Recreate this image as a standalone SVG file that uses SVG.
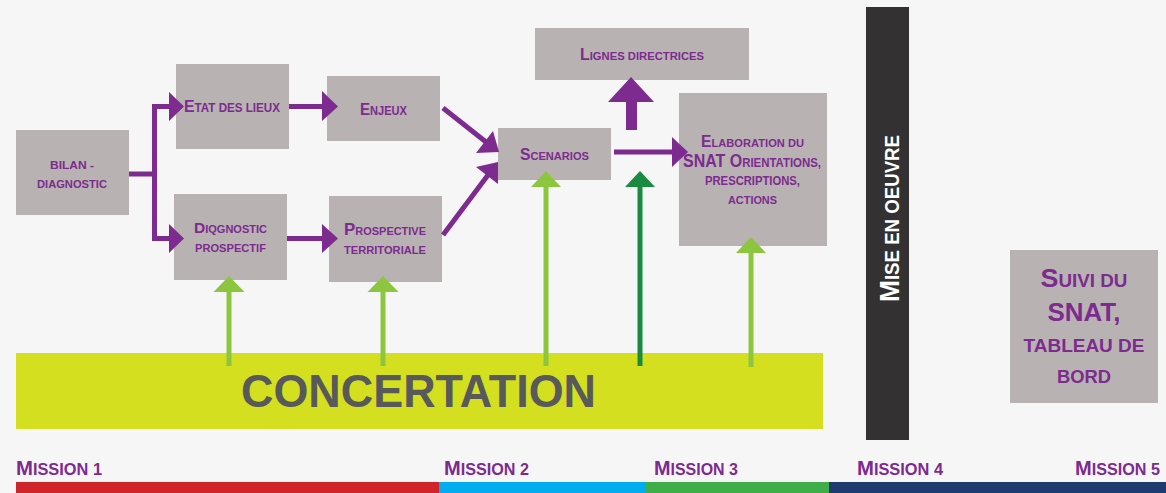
<svg xmlns="http://www.w3.org/2000/svg" width="1166" height="493" viewBox="0 0 1166 493">
<style>
.box{fill:#b8b2b2}
.t{font-family:"Liberation Sans",Arial,sans-serif;font-weight:bold;fill:#7d2b8f}
.pl{stroke:#7d2b8f;stroke-width:5;fill:none}
.ph{fill:#7d2b8f}
.lg{stroke:#8cc63f;stroke-width:5;fill:none}
.lgh{fill:#8cc63f}
.dg{stroke:#1a8a3e;stroke-width:5;fill:none}
.dgh{fill:#1a8a3e}
</style>
<rect width="1166" height="493" fill="#f6f6f6"/>

<g id="concertation">
<rect x="16" y="353" width="807" height="76" fill="#d4df20"/>
<text x="241" y="407" font-family="Liberation Sans,Arial,sans-serif" font-weight="bold" font-size="46" fill="#58595b" textLength="355" lengthAdjust="spacingAndGlyphs">CONCERTATION</text>
</g>

<g id="bilan">
<rect class="box" x="16" y="130" width="113" height="85"/>
<text class="t" x="72" y="169" text-anchor="middle" font-size="11.5" textLength="44" lengthAdjust="spacingAndGlyphs">BILAN -</text>
<text class="t" x="72" y="188" text-anchor="middle" font-size="11.5" textLength="70" lengthAdjust="spacingAndGlyphs">DIAGNOSTIC</text>
</g>

<g id="etat">
<rect class="box" x="176" y="64" width="113" height="85"/>
<text class="t" x="184" y="112" font-size="12.5" textLength="96" lengthAdjust="spacingAndGlyphs"><tspan font-size="17">E</tspan>TAT DES LIEUX</text>
</g>

<g id="enjeux">
<rect class="box" x="327" y="76" width="113" height="65"/>
<text class="t" x="383.5" y="115" text-anchor="middle" font-size="12.5" textLength="47" lengthAdjust="spacingAndGlyphs"><tspan font-size="17">E</tspan>NJEUX</text>
</g>

<g id="diagnostic-prospectif">
<rect class="box" x="174" y="194" width="113" height="86"/>
<text class="t" x="230.5" y="233" text-anchor="middle" font-size="11" textLength="73" lengthAdjust="spacingAndGlyphs"><tspan font-size="15.5">D</tspan>IQGNOSTIC</text>
<text class="t" x="230.5" y="252" text-anchor="middle" font-size="11" textLength="71" lengthAdjust="spacingAndGlyphs">PROSPECTIF</text>
</g>

<g id="prospective">
<rect class="box" x="329" y="196" width="113" height="86"/>
<text class="t" x="385" y="235" text-anchor="middle" font-size="11" textLength="82" lengthAdjust="spacingAndGlyphs"><tspan font-size="17">P</tspan>ROSPECTIVE</text>
<text class="t" x="385" y="254" text-anchor="middle" font-size="10.5" textLength="82" lengthAdjust="spacingAndGlyphs">TERRITORIALE</text>
</g>

<g id="scenarios">
<rect class="box" x="498" y="128" width="113" height="52"/>
<text class="t" x="554.5" y="160" text-anchor="middle" font-size="11.7" textLength="69" lengthAdjust="spacingAndGlyphs"><tspan font-size="16.5">S</tspan>CENARIOS</text>
</g>

<g id="lignes">
<rect class="box" x="535" y="28" width="214" height="52"/>
<text class="t" x="642" y="60" text-anchor="middle" font-size="11.7" textLength="124" lengthAdjust="spacingAndGlyphs"><tspan font-size="16.5">L</tspan>IGNES DIRECTRICES</text>
</g>

<g id="elaboration">
<rect class="box" x="679" y="93" width="148" height="153"/>
<text class="t" x="752.5" y="147" text-anchor="middle" font-size="11.7" textLength="103" lengthAdjust="spacingAndGlyphs"><tspan font-size="16.5">E</tspan>LABORATION DU</text>
<text class="t" x="752" y="167" text-anchor="middle" font-size="12.5" textLength="138" lengthAdjust="spacingAndGlyphs"><tspan font-size="17.5">SNAT O</tspan>RIENTATIONS,</text>
<text class="t" x="752.5" y="185" text-anchor="middle" font-size="12" textLength="95" lengthAdjust="spacingAndGlyphs">PRESCRIPTIONS,</text>
<text class="t" x="752.5" y="204" text-anchor="middle" font-size="11.7" textLength="49" lengthAdjust="spacingAndGlyphs">ACTIONS</text>
</g>

<g id="mise-en-oeuvre">
<rect x="866" y="7" width="43" height="433" fill="#333132"/>
<text class="t" transform="translate(899,218.5) rotate(-90)" x="0" y="0" text-anchor="middle" font-size="19.5" style="fill:#ffffff" textLength="167" lengthAdjust="spacingAndGlyphs"><tspan font-size="27.5">M</tspan>ISE EN OEUVRE</text>
</g>

<g id="suivi">
<rect class="box" x="1010" y="250" width="148" height="153"/>
<text class="t" x="1084" y="287" text-anchor="middle" font-size="17.5" textLength="87" lengthAdjust="spacingAndGlyphs"><tspan font-size="25">S</tspan>UIVI DU</text>
<text class="t" x="1084" y="321" text-anchor="middle" font-size="26" textLength="73" lengthAdjust="spacingAndGlyphs">SNAT,</text>
<text class="t" x="1084" y="352" text-anchor="middle" font-size="17.5" textLength="121" lengthAdjust="spacingAndGlyphs">TABLEAU DE</text>
<text class="t" x="1084" y="383" text-anchor="middle" font-size="17.5" textLength="54" lengthAdjust="spacingAndGlyphs">BORD</text>
</g>

<g id="missions">
<rect x="16" y="482" width="423" height="11" fill="#d0242b"/>
<rect x="439" y="482" width="206" height="11" fill="#00aeef"/>
<rect x="645" y="482" width="184" height="11" fill="#3fae49"/>
<rect x="829" y="482" width="337" height="11" fill="#1f3a6e"/>
<text class="t" x="16" y="475" font-size="16.5" textLength="86" lengthAdjust="spacingAndGlyphs"><tspan font-size="20.5">M</tspan>ISSION 1</text>
<text class="t" x="444" y="475" font-size="16.5" textLength="85" lengthAdjust="spacingAndGlyphs"><tspan font-size="20.5">M</tspan>ISSION 2</text>
<text class="t" x="654" y="475" font-size="16.5" textLength="84" lengthAdjust="spacingAndGlyphs"><tspan font-size="20.5">M</tspan>ISSION 3</text>
<text class="t" x="857" y="475" font-size="16.5" textLength="86" lengthAdjust="spacingAndGlyphs"><tspan font-size="20.5">M</tspan>ISSION 4</text>
<text class="t" x="1075" y="475" font-size="16.5" textLength="85" lengthAdjust="spacingAndGlyphs"><tspan font-size="20.5">M</tspan>ISSION 5</text>
</g>

<g id="connectors">
<path class="pl" d="M129,174 H154.5 M170,106.5 H154.5 V238.5 H170"/>
<polygon class="ph" points="169,92 184,106.5 169,121"/>
<polygon class="ph" points="169,224 184,238.5 169,253"/>
<path class="pl" d="M289,106.5 H323"/>
<polygon class="ph" points="322,91 338,106.5 322,121"/>
<path class="pl" d="M287,238.5 H323"/>
<polygon class="ph" points="322,224 338,238.5 322,253"/>
<path class="pl" d="M443,108 L486,142"/>
<polygon class="ph" points="476,153 499,152 493,131"/>
<path class="pl" d="M443,235 L488,175"/>
<polygon class="ph" points="476,167 498,162 498,184"/>
<rect x="626" y="101" width="11" height="29" fill="#7d2b8f"/>
<polygon class="ph" points="608,102 654,102 631,77"/>
<path class="pl" d="M614,152 H674"/>
<polygon class="ph" points="672,137 688,152 672,167"/>
<path class="lg" d="M229,366 V290"/>
<polygon class="lgh" points="213.5,292 244.5,292 229,276"/>
<path class="lg" d="M383,366 V290"/>
<polygon class="lgh" points="367.5,292 398.5,292 383,276"/>
<path class="lg" d="M546,366 V185"/>
<polygon class="lgh" points="531,187 561,187 546,171"/>
<path class="dg" d="M640,366 V185"/>
<polygon class="dgh" points="625,187 655,187 640,171"/>
<path class="lg" d="M751,367 V251"/>
<polygon class="lgh" points="736,253 766,253 751,237"/>
</g>
</svg>
